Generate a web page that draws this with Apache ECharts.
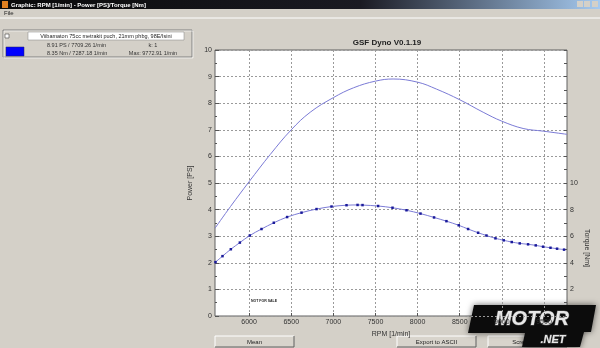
<!DOCTYPE html>
<html>
<head>
<meta charset="utf-8">
<script src="https://cdn.jsdelivr.net/npm/echarts@6/dist/echarts.min.js"></script>
<style>
html,body{margin:0;padding:0;background:#d4d0c8;}
#c{width:600px;height:348px;}
</style>
</head>
<body>
<div id="c"></div>
<script>
// ---- data ----
var powerRpm = [5595, 5780, 6000, 6250, 6500, 6725, 7000, 7240, 7500, 7709, 8000, 8224, 8500, 8778, 8995, 9252, 9490, 9773];
var powerPs  = [3.30, 4.12, 5.05, 6.07, 7.00, 7.66, 8.21, 8.58, 8.83, 8.91, 8.79, 8.53, 8.13, 7.66, 7.33, 7.05, 6.95, 6.83];
var torqueRpm = [5601, 5684, 5783, 5890, 6008, 6147, 6293, 6451, 6622, 6800, 6978, 7156, 7287, 7346, 7531, 7702, 7868, 8034, 8195, 8342, 8488, 8599, 8718, 8817, 8924, 9022, 9117, 9212, 9311, 9402, 9489, 9577, 9655, 9738];
var torqueNm  = [4.05, 4.50, 5.02, 5.52, 6.05, 6.54, 7.01, 7.44, 7.77, 8.04, 8.23, 8.33, 8.35, 8.34, 8.27, 8.14, 7.95, 7.70, 7.41, 7.13, 6.82, 6.54, 6.26, 6.05, 5.84, 5.69, 5.56, 5.46, 5.39, 5.31, 5.21, 5.13, 5.06, 4.99];
var xTicks = [6000, 6500, 7000, 7500, 8000, 8500, 9000, 9500];
var torqueLabels = [2, 4, 6, 8, 10];
var titleText = 'GSF Dyno V0.1.19';
var windowTitle = 'Graphic: RPM [1/min] - Power [PS]/Torque [Nm]';
var runName = 'Viibamaton 75cc metrakit puch, 21mm phbg, 98E/Isini';
var infoPower = '8.91 PS / 7709.26 1/min';
var infoTorque = '8.35 Nm / 7287.18 1/min';
var infoK = 'k: 1';
var infoMax = 'Max: 9772.91 1/min';
var buttons = ['Mean', 'Export to ASCII', 'Screenshot'];

function zip(a, b) { return a.map(function (v, i) { return [v, b[i]]; }); }

var F = '"Liberation Sans", Arial, sans-serif';
var chart = echarts.init(document.getElementById('c'), null, {renderer: 'canvas'});

function btn(x, label) {
  return {
    type: 'group', x: x, y: 336, z: 10, children: [
      {type: 'rect', shape: {x: 0, y: 0, width: 79, height: 11}, style: {fill: '#d8d4cc', stroke: null}},
      {type: 'line', shape: {x1: 0, y1: 0, x2: 79, y2: 0}, style: {stroke: '#ffffff', lineWidth: 1}},
      {type: 'line', shape: {x1: 0, y1: 0, x2: 0, y2: 11}, style: {stroke: '#ffffff', lineWidth: 1}},
      {type: 'line', shape: {x1: 79, y1: 0, x2: 79, y2: 11}, style: {stroke: '#606060', lineWidth: 1}},
      {type: 'line', shape: {x1: 0, y1: 11, x2: 79, y2: 11}, style: {stroke: '#606060', lineWidth: 1}},
      {type: 'text', style: {text: label, x: 39.5, y: 6, textAlign: 'center', textVerticalAlign: 'middle', font: '6px ' + F, fill: '#222'}}
    ]
  };
}

var option = {
  animation: false,
  backgroundColor: '#d4d0c8',
  grid: {left: 215, top: 50, width: 352, height: 266, show: true, backgroundColor: '#ffffff', borderColor: '#606060', borderWidth: 1, containLabel: false},
  xAxis: {
    type: 'value', min: 5595, max: 9773,
    name: 'RPM [1/min]', nameLocation: 'middle', nameGap: 8,
    nameTextStyle: {fontSize: 7, fontFamily: F, color: '#333'},
    axisLine: {show: false},
    axisTick: {show: true, inside: true, length: 3, lineStyle: {color: '#555'}, customValues: xTicks},
    axisLabel: {fontSize: 7, fontFamily: F, color: '#333', margin: 3, customValues: xTicks,
      formatter: function (v) { return String(v); }},
    splitLine: {show: true, lineStyle: {color: '#9a9a9a', type: [2, 2], width: 1}}
  },
  yAxis: [
    {
      type: 'value', min: 0, max: 10, interval: 1,
      name: 'Power [PS]', nameLocation: 'middle', nameGap: 11, nameRotate: 90,
      nameTextStyle: {fontSize: 7, fontFamily: F, color: '#333'},
      axisLine: {show: false},
      axisTick: {show: true, inside: true, length: 4, lineStyle: {color: '#555'}},
      minorTick: {show: true, splitNumber: 2, length: 2, lineStyle: {color: '#555'}},
      axisLabel: {fontSize: 7, fontFamily: F, color: '#333', margin: 3},
      splitLine: {show: true, lineStyle: {color: '#9a9a9a', type: [2, 2], width: 1}}
    },
    {
      type: 'value', min: 0, max: 20, interval: 1, position: 'right',
      axisLine: {show: false},
      axisTick: {show: true, inside: true, length: 3, lineStyle: {color: '#555'}},
      axisLabel: {fontSize: 7, fontFamily: F, color: '#333', margin: 3,
        formatter: function (v) { return torqueLabels.indexOf(v) >= 0 ? String(v) : ''; }},
      splitLine: {show: false}
    }
  ],
  series: [
    {
      type: 'line', name: 'Power', data: zip(powerRpm, powerPs), smooth: 0.4, showSymbol: false,
      lineStyle: {color: '#7b7bd6', width: 1}, z: 3
    },
    {
      type: 'line', name: 'Torque', yAxisIndex: 1, data: zip(torqueRpm, torqueNm), smooth: 0.35,
      symbol: 'rect', symbolSize: 2.5, showSymbol: true,
      itemStyle: {color: '#1a1a9a'},
      lineStyle: {color: '#7b7bd6', width: 1}, z: 3
    }
  ],
  graphic: [
    // window title bar
    {type: 'rect', shape: {x: 0, y: 0, width: 600, height: 9}, z: 1,
      style: {fill: new echarts.graphic.LinearGradient(0, 0, 1, 0, [
        {offset: 0, color: '#0a0a0a'}, {offset: 0.6, color: '#1a1a22'}, {offset: 1, color: '#a6caf0'}])}},
    {type: 'rect', shape: {x: 2, y: 1, width: 6, height: 7}, z: 2, style: {fill: '#e08020'}},
    {type: 'text', z: 2, style: {text: windowTitle, x: 11, y: 5, textVerticalAlign: 'middle', font: 'bold 6px ' + F, fill: '#ffffff'}},
    {type: 'rect', shape: {x: 577, y: 1, width: 6, height: 6}, z: 2, style: {fill: '#d4d0c8'}},
    {type: 'rect', shape: {x: 584, y: 1, width: 6, height: 6}, z: 2, style: {fill: '#d4d0c8'}},
    {type: 'rect', shape: {x: 592, y: 1, width: 6, height: 6}, z: 2, style: {fill: '#d4d0c8'}},
    {type: 'text', z: 2, style: {text: 'File', x: 4, y: 13, textVerticalAlign: 'middle', font: '6px ' + F, fill: '#222'}},
    {type: 'line', z: 2, shape: {x1: 0, y1: 18, x2: 600, y2: 18}, style: {stroke: '#ffffff', lineWidth: 1}},
    // legend panel
    {type: 'rect', z: 2, shape: {x: 3, y: 30, width: 189, height: 27}, style: {fill: 'none', stroke: '#808080', lineWidth: 1}},
    {type: 'rect', z: 2, shape: {x: 4, y: 31, width: 189, height: 27}, style: {fill: 'none', stroke: '#ffffff', lineWidth: 0.6}},
    {type: 'rect', z: 2, shape: {x: 5, y: 34, width: 4, height: 4}, style: {fill: '#ffffff', stroke: '#404040', lineWidth: 0.6}},
    {type: 'rect', z: 2, shape: {x: 28, y: 32, width: 156, height: 8}, style: {fill: '#ffffff', stroke: '#808080', lineWidth: 0.5}},
    {type: 'text', z: 3, style: {text: runName, x: 106, y: 36, textAlign: 'center', textVerticalAlign: 'middle', font: '5.5px ' + F, fill: '#222'}},
    {type: 'rect', z: 2, shape: {x: 6, y: 47, width: 18, height: 9}, style: {fill: '#0000ff', stroke: '#202060', lineWidth: 0.5}},
    {type: 'text', z: 3, style: {text: infoPower, x: 47, y: 45.5, textVerticalAlign: 'middle', font: '5.5px ' + F, fill: '#333'}},
    {type: 'text', z: 3, style: {text: infoTorque, x: 47, y: 53.5, textVerticalAlign: 'middle', font: '5.5px ' + F, fill: '#333'}},
    {type: 'text', z: 3, style: {text: infoK, x: 153, y: 45.5, textAlign: 'center', textVerticalAlign: 'middle', font: '5.5px ' + F, fill: '#333'}},
    {type: 'text', z: 3, style: {text: infoMax, x: 153, y: 53.5, textAlign: 'center', textVerticalAlign: 'middle', font: '5.5px ' + F, fill: '#333'}},
    // chart title
    {type: 'text', z: 3, style: {text: titleText, x: 387, y: 43, textAlign: 'center', textVerticalAlign: 'middle', font: 'bold 8px ' + F, fill: '#222'}},
    // right axis name
    {type: 'text', z: 3, x: 587, y: 248, rotation: -Math.PI / 2,
      style: {text: 'Torque [Nm]', x: 0, y: 0, textAlign: 'center', textVerticalAlign: 'middle', font: '7px ' + F, fill: '#333'}},
    // not for sale
    {type: 'text', z: 3, style: {text: 'NOT FOR SALE', x: 251, y: 301, textVerticalAlign: 'middle', font: 'bold 3.5px ' + F, fill: '#222'}},
    // buttons
    btn(215, buttons[0]), btn(397, buttons[1]), btn(488, buttons[2]),
    // logo
    {type: 'group', z: 20, children: [
      {type: 'polygon', shape: {points: [[474, 305], [596, 305], [591, 332], [584, 332], [580, 347], [522, 347], [525, 333], [468, 333]]},
        style: {fill: '#0c0c0c', shadowBlur: 6, shadowColor: 'rgba(0,0,0,0.6)'}},
      {type: 'text', style: {text: 'MOTOR', x: 532, y: 319, textAlign: 'center', textVerticalAlign: 'middle', font: 'italic 900 20px ' + F, fill: '#e8e8e8', stroke: '#555', lineWidth: 1}},
      {type: 'text', style: {text: '.NET', x: 553, y: 340, textAlign: 'center', textVerticalAlign: 'middle', font: 'italic 900 11px ' + F, fill: '#e8e8e8', stroke: '#555', lineWidth: 0.8}}
    ]}
  ]
};
chart.setOption(option);
</script>
</body>
</html>
